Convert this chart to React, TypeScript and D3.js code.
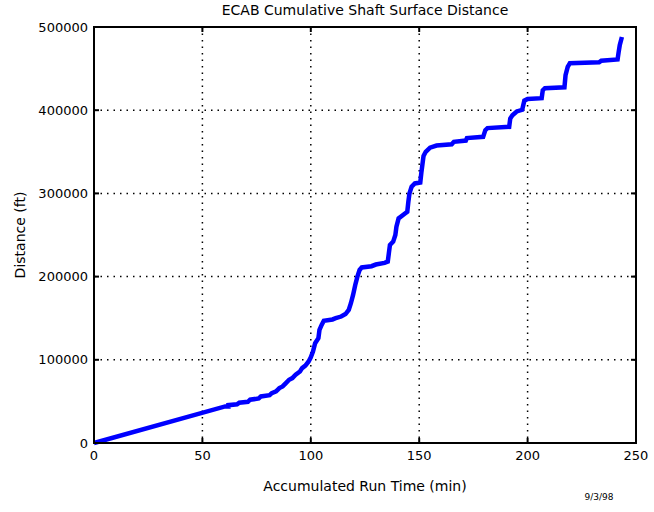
import React, { useEffect, useRef } from 'react';
import * as d3 from 'd3';

// accumulated run time (min) and cumulative shaft surface distance (ft)
const runTime = [
  0, 60.5, 62, 62, 66, 67, 71, 72, 76, 77, 81, 82, 84, 85.5, 87, 88.5, 90, 91.5, 93, 95,
  96, 97.5, 99, 100, 101, 102, 103.5, 104, 105, 106, 110, 111.5, 114, 116, 117.5, 118.5,
  119.5, 120.5, 121.5, 122.5, 123.5, 128, 130, 134, 135.5, 136, 136.5, 138, 139, 139.5,
  140.5, 143, 144.5, 145, 145.5, 146.5, 148, 150.5, 151, 151.5, 152, 153, 155, 158, 165,
  166, 171.5, 172, 179.5, 180.5, 181.5, 191.5, 192, 193, 195, 197.5, 198.5, 200, 206.5,
  207, 208, 217, 217.5, 218.5, 219.5, 233, 234, 241.5, 242, 242.5, 243.5
];
const distance = [
  0, 44000, 44000, 45500, 46500, 48500, 49500, 52000, 53500, 56000, 57500, 60000, 62000,
  66000, 68000, 72000, 76000, 78000, 82000, 86000, 90000, 93000, 98000, 103000, 110000,
  120000, 126000, 136000, 142000, 147000, 148500, 150000, 152000, 155000, 160000, 168000,
  178000, 190000, 200000, 208000, 211000, 212500, 214500, 216500, 218000, 228000, 238000,
  242000, 250000, 260000, 270000, 275000, 278000, 290000, 300000, 308000, 312000, 313000,
  325000, 335000, 345000, 350000, 355000, 357500, 359000, 362000, 363500, 366500, 368000,
  376000, 378500, 380000, 390000, 394000, 398500, 400500, 411500, 413500, 414500, 424000,
  426500, 427500, 442000, 452000, 456500, 457500, 459500, 461000, 470000, 478000, 488000
];
const xTicks = [0, 50, 100, 150, 200, 250];
const yTicks = [0, 100000, 200000, 300000, 400000, 500000];

const title = 'ECAB Cumulative Shaft Surface Distance';
const xLabel = 'Accumulated Run Time (min)';
const yLabel = 'Distance (ft)';
const stamp = '9/3/98';

const App = () => {
  const ref = useRef<SVGSVGElement>(null);
  const width = 654;
  const height = 512;
  const margin = { top: 27, right: 18, bottom: 69, left: 94 };

  useEffect(() => {
    const svg = d3.select(ref.current);
    svg.selectAll('*').remove();

    const w = width - margin.left - margin.right;
    const h = height - margin.top - margin.bottom;
    const font = 'DejaVu Sans, sans-serif';

    const x = d3.scaleLinear().domain([0, 250]).range([0, w]);
    const y = d3.scaleLinear().domain([0, 500000]).range([h, 0]);

    const g = svg.append('g')
      .attr('transform', 'translate(' + margin.left + ',' + margin.top + ')');

    // dotted grid
    g.selectAll('.vgrid')
      .data(xTicks.slice(1, -1))
      .enter()
      .append('line')
      .attr('x1', d => x(d)).attr('x2', d => x(d))
      .attr('y1', 0).attr('y2', h)
      .attr('stroke', '#000')
      .attr('stroke-width', 1.5)
      .attr('stroke-dasharray', '1.5,5');
    g.selectAll('.hgrid')
      .data(yTicks.slice(1, -1))
      .enter()
      .append('line')
      .attr('x1', 0).attr('x2', w)
      .attr('y1', d => y(d)).attr('y2', d => y(d))
      .attr('stroke', '#000')
      .attr('stroke-width', 1.5)
      .attr('stroke-dasharray', '1.5,5');

    // the curve
    const pts: [number, number][] = runTime.map((t, i) => [t, distance[i]]);
    const line = d3.line<[number, number]>()
      .x(d => x(d[0]))
      .y(d => y(d[1]));
    g.append('path')
      .datum(pts)
      .attr('d', line)
      .attr('fill', 'none')
      .attr('stroke', '#0000ff')
      .attr('stroke-width', 4.5)
      .attr('stroke-linejoin', 'miter');

    // box
    g.append('rect')
      .attr('x', 0).attr('y', 0)
      .attr('width', w).attr('height', h)
      .attr('fill', 'none')
      .attr('stroke', '#000')
      .attr('stroke-width', 2);

    // inward ticks on all four sides
    const tl = 5;
    xTicks.forEach(t => {
      g.append('line').attr('x1', x(t)).attr('x2', x(t)).attr('y1', h).attr('y2', h - tl)
        .attr('stroke', '#000').attr('stroke-width', 2);
      g.append('line').attr('x1', x(t)).attr('x2', x(t)).attr('y1', 0).attr('y2', tl)
        .attr('stroke', '#000').attr('stroke-width', 2);
    });
    yTicks.forEach(t => {
      g.append('line').attr('x1', 0).attr('x2', tl).attr('y1', y(t)).attr('y2', y(t))
        .attr('stroke', '#000').attr('stroke-width', 2);
      g.append('line').attr('x1', w).attr('x2', w - tl).attr('y1', y(t)).attr('y2', y(t))
        .attr('stroke', '#000').attr('stroke-width', 2);
    });

    // tick labels
    g.selectAll('.xlab')
      .data(xTicks)
      .enter()
      .append('text')
      .attr('x', d => x(d))
      .attr('y', h + 17)
      .attr('text-anchor', 'middle')
      .style('font-family', font)
      .style('font-size', '13px')
      .text(d => String(d));
    g.selectAll('.ylab')
      .data(yTicks)
      .enter()
      .append('text')
      .attr('x', -6)
      .attr('y', d => y(d))
      .attr('dy', '.35em')
      .attr('text-anchor', 'end')
      .style('font-family', font)
      .style('font-size', '13px')
      .text(d => String(d));

    // title and axis labels
    svg.append('text')
      .attr('x', margin.left + w / 2)
      .attr('y', 15)
      .attr('text-anchor', 'middle')
      .style('font-family', font)
      .style('font-size', '14px')
      .text(title);
    svg.append('text')
      .attr('x', margin.left + w / 2)
      .attr('y', margin.top + h + 48)
      .attr('text-anchor', 'middle')
      .style('font-family', font)
      .style('font-size', '14px')
      .text(xLabel);
    svg.append('text')
      .attr('transform', 'translate(25,' + (margin.top + h / 2) + ') rotate(-90)')
      .attr('text-anchor', 'middle')
      .style('font-family', font)
      .style('font-size', '14px')
      .text(yLabel);
    svg.append('text')
      .attr('x', 599)
      .attr('y', 500)
      .attr('text-anchor', 'middle')
      .style('font-family', font)
      .style('font-size', '9px')
      .text(stamp);
  });

  return (
    <div style={{ position: 'fixed', left: 0, top: 0 }}>
      <svg ref={ref} width={width} height={height} style={{ background: '#fff', display: 'block' }} />
    </div>
  );
};

export default App;
